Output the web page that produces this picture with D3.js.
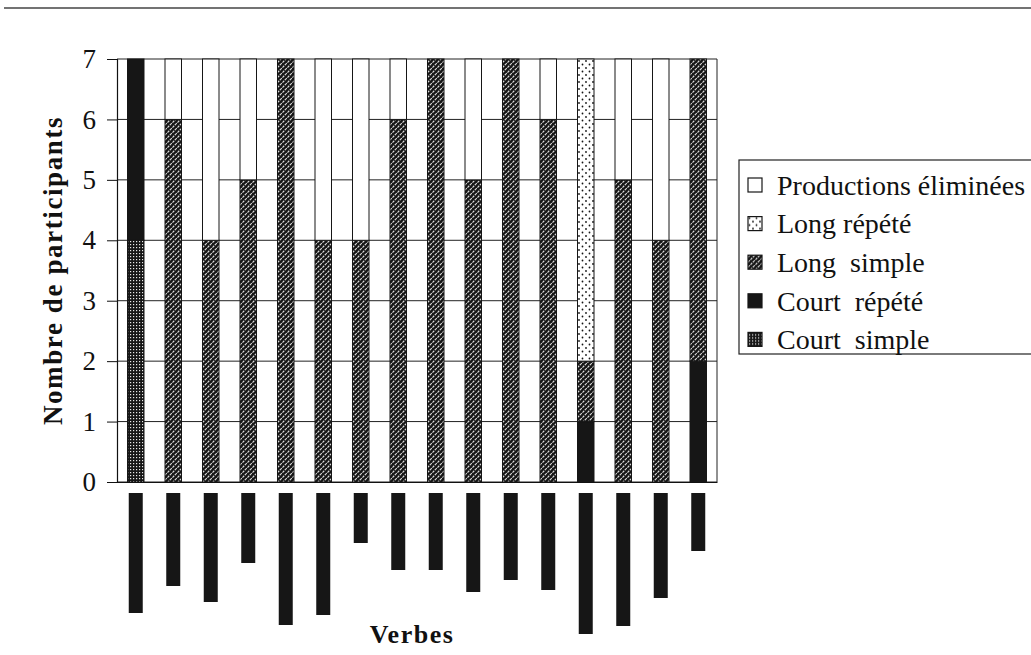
<!DOCTYPE html>
<html><head><meta charset="utf-8">
<script src="https://cdn.jsdelivr.net/npm/d3@7"></script>
<style>
html,body{margin:0;padding:0;background:#fff;}
svg{display:block;}
text{font-family:"Liberation Serif","Times New Roman",serif;fill:#111;}
</style></head>
<body>
<svg id="chart" width="1031" height="655"></svg>
<script>
// ---- data ----
const verbs = d3.range(1, 17).map(i => "V" + i);
const seriesNames = ["Court simple", "Court répété", "Long simple", "Long répété", "Productions éliminées"];
const courtSimple = [4, 0, 0, 0, 0, 0, 0, 0, 0, 0, 0, 0, 0, 0, 0, 0];
const courtRepete = [3, 0, 0, 0, 0, 0, 0, 0, 0, 0, 0, 0, 1, 0, 0, 2];
const longSimple  = [0, 6, 4, 5, 7, 4, 4, 6, 7, 5, 7, 6, 1, 5, 4, 5];
const longRepete  = [0, 0, 0, 0, 0, 0, 0, 0, 0, 0, 0, 0, 5, 0, 0, 0];
const eliminees   = [0, 1, 3, 2, 0, 3, 3, 1, 0, 2, 0, 1, 0, 2, 3, 0];
const yTicks = [0, 1, 2, 3, 4, 5, 6, 7];
// redacted (blacked-out) verb labels: relative extent of each label
const labelLengths = [120, 93, 109, 70, 132, 122, 50, 77, 77, 99, 87, 97, 141, 133, 105, 58];
const legendOrder = ["Productions éliminées", "Long répété", "Long  simple", "Court  répété", "Court  simple"];

// ---- build ----
const SERIF = "'Liberation Serif', 'Times New Roman', serif";
const svg = d3.select("#chart");
const defs = svg.append("defs");
const INK = "#161616";

// patterns
const pLS = defs.append("pattern").attr("id", "pLongSimple").attr("patternUnits", "userSpaceOnUse")
  .attr("width", 5).attr("height", 5);
pLS.append("rect").attr("width", 5).attr("height", 5).attr("fill", INK);
pLS.append("path").attr("d", "M-1,1 L1,-1 M0,5 L5,0 M4,6 L6,4")
  .attr("stroke", "#e0e0e0").attr("stroke-width", 1.1).attr("stroke-dasharray", "2.5,1");

const pCS = defs.append("pattern").attr("id", "pCourtSimple").attr("patternUnits", "userSpaceOnUse")
  .attr("width", 3).attr("height", 3);
pCS.append("rect").attr("width", 3).attr("height", 3).attr("fill", INK);
pCS.append("rect").attr("x", 1).attr("y", 1).attr("width", 1.2).attr("height", 1.2).attr("fill", "#e8e8e8");

const pLR = defs.append("pattern").attr("id", "pLongRepete").attr("patternUnits", "userSpaceOnUse")
  .attr("width", 7).attr("height", 7);
pLR.append("rect").attr("width", 7).attr("height", 7).attr("fill", "#fff");
pLR.append("circle").attr("cx", 1.5).attr("cy", 1.5).attr("r", 0.9).attr("fill", INK);
pLR.append("circle").attr("cx", 5).attr("cy", 5).attr("r", 0.9).attr("fill", INK);

const fills = {
  "Court simple": "url(#pCourtSimple)",
  "Court répété": INK,
  "Long simple": "url(#pLongSimple)",
  "Long répété": "url(#pLongRepete)",
  "Productions éliminées": "#fff"
};
const legendKey = {
  "Productions éliminées": "Productions éliminées",
  "Long répété": "Long répété",
  "Long  simple": "Long simple",
  "Court  répété": "Court répété",
  "Court  simple": "Court simple"
};

// page rule at top
svg.append("line").attr("x1", 4).attr("x2", 1031).attr("y1", 8).attr("y2", 8)
  .attr("stroke", "#444").attr("stroke-width", 1.6);

const plot = {left: 117, right: 717, top: 59, bottom: 482};
const x = d3.scaleBand().domain(verbs).range([plot.left, plot.right])
  .paddingInner(0.56).paddingOuter(0.28);
const y = d3.scaleLinear().domain([0, 7]).range([plot.bottom, plot.top]);

// gridlines
svg.append("g").selectAll("line").data(yTicks).join("line")
  .attr("x1", plot.left).attr("x2", plot.right)
  .attr("y1", d => y(d)).attr("y2", d => y(d))
  .attr("stroke", "#222").attr("stroke-width", 1);
// right border
svg.append("line").attr("x1", plot.right).attr("x2", plot.right)
  .attr("y1", y(7)).attr("y2", y(0)).attr("stroke", "#222").attr("stroke-width", 1);

// stacked data
const table = verbs.map((v, i) => ({
  verb: v,
  "Court simple": courtSimple[i],
  "Court répété": courtRepete[i],
  "Long simple": longSimple[i],
  "Long répété": longRepete[i],
  "Productions éliminées": eliminees[i]
}));
const stacked = d3.stack().keys(seriesNames)(table);

svg.append("g").selectAll("g").data(stacked).join("g")
  .attr("fill", d => fills[d.key])
  .selectAll("rect").data(d => d.filter(s => s[1] > s[0])).join("rect")
  .attr("x", d => x(d.data.verb))
  .attr("width", x.bandwidth())
  .attr("y", d => y(d[1]))
  .attr("height", d => y(d[0]) - y(d[1]))
  .attr("stroke", INK).attr("stroke-width", 1);

// y axis
const yAxis = d3.axisLeft(y).tickValues(yTicks).tickFormat(d3.format("d")).tickSize(10).tickPadding(11);
const gy = svg.append("g").attr("transform", `translate(${plot.left},0)`).call(yAxis);
gy.select(".domain").attr("stroke", "#111").attr("stroke-width", 1.2);
gy.selectAll(".tick line").attr("stroke", "#111");
gy.selectAll(".tick text").attr("font-family", SERIF).attr("font-size", 27).attr("fill", "#111");

// x axis line
const xAxis = d3.axisBottom(x).tickSize(0).tickFormat("");
const gx = svg.append("g").attr("transform", `translate(0,${plot.bottom})`).call(xAxis);
gx.select(".domain").attr("stroke", "#111").attr("stroke-width", 1.2);

// redacted labels
const lenScale = d3.scaleLinear().domain([0, 100]).range([0, 100]);
svg.append("g").selectAll("rect").data(verbs).join("rect")
  .attr("x", (d) => x(d) + x.bandwidth() / 2 - 7)
  .attr("width", 14)
  .attr("y", 493)
  .attr("height", (d, i) => lenScale(labelLengths[i]))
  .attr("fill", INK);

// axis titles
svg.append("text").attr("transform", `translate(62,${(plot.top + plot.bottom) / 2}) rotate(-90)`)
  .attr("text-anchor", "middle").attr("font-family", SERIF).attr("font-weight", "bold").attr("font-size", 27)
  .attr("letter-spacing", 1.6).text("Nombre de participants");
svg.append("text").attr("x", 412).attr("y", 643).attr("text-anchor", "middle")
  .attr("font-family", SERIF).attr("font-weight", "bold").attr("font-size", 26).attr("letter-spacing", 1.5).text("Verbes");

// legend
const lg = svg.append("g");
lg.append("rect").attr("x", 739).attr("y", 160).attr("width", 400).attr("height", 194)
  .attr("fill", "#fff").attr("stroke", "#222").attr("stroke-width", 1.2);
const li = lg.selectAll("g.item").data(legendOrder).join("g").attr("class", "item")
  .attr("transform", (d, i) => `translate(748,${185 + i * 38.6})`);
li.append("rect").attr("x", 0).attr("y", -7).attr("width", 14).attr("height", 14)
  .attr("fill", d => fills[legendKey[d]]).attr("stroke", INK).attr("stroke-width", 1.2);
li.append("text").attr("x", 29).attr("y", 0).attr("dy", "0.35em")
  .attr("font-family", SERIF).attr("font-size", 28).attr("fill", "#111")
  .style("white-space", "pre").text(d => d);
</script>
</body></html>
